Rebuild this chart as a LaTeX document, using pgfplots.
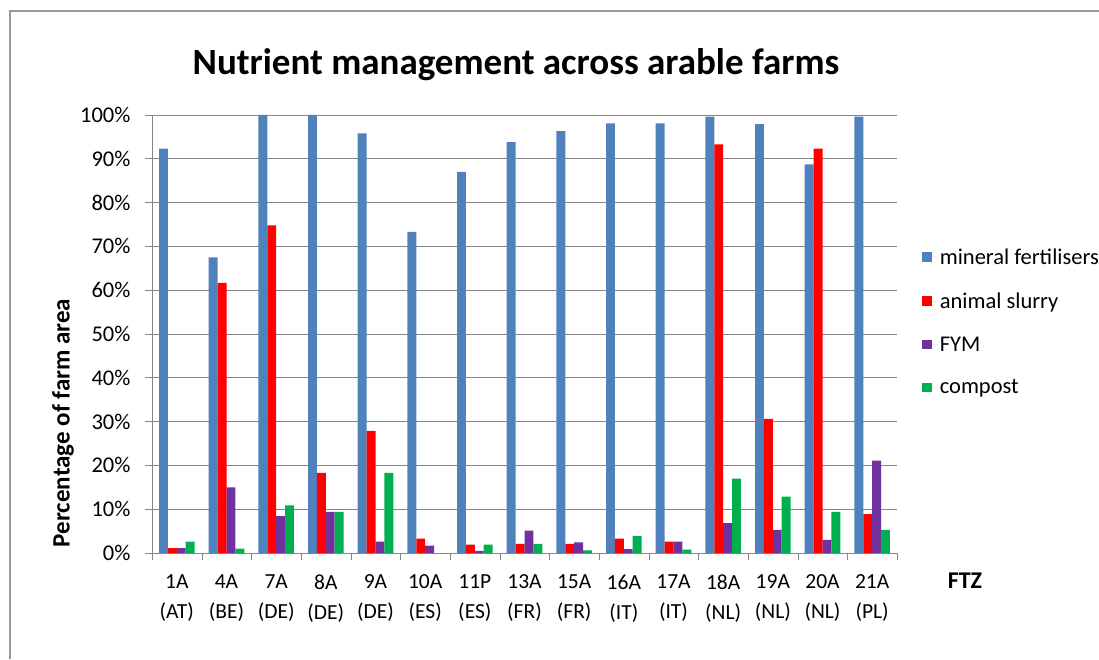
\documentclass[border=0pt]{standalone}
\usepackage{fontspec}
\setmainfont{Carlito}
\usepackage{pgfplots}
\pgfplotsset{compat=1.18}

\definecolor{cMin}{HTML}{4F81BD}
\definecolor{cSlu}{HTML}{FF0000}
\definecolor{cFym}{HTML}{7030A0}
\definecolor{cCom}{HTML}{00B050}
\definecolor{gridc}{HTML}{868686}

\begin{document}
\begin{tikzpicture}[x=1pt,y=1pt]
\path[use as bounding box] (0,0) rectangle (1099,659);
\draw[gray!80,line width=1.2pt] (10,0) -- (10,648) -- (1099,648);

\node[font=\bfseries\fontsize{37}{40}\selectfont, anchor=base] at (516,584) {Nutrient management across arable farms};
\node[font=\bfseries\fontsize{25}{28}\selectfont,rotate=90] at (63,236) {Percentage of farm area};
\node[font=\bfseries\fontsize{24}{28}\selectfont] at (965,78) {FTZ};

\begin{axis}[
    at={(152pt,106pt)}, anchor=south west,
    scale only axis, width=745pt, height=438pt,
    ybar=0pt, bar width=8.9pt,
    xmin=-0.5, xmax=14.5, ymin=0, ymax=100,
    axis x line*=bottom, axis y line*=left,
    axis line style={gridc, line width=0.8pt},
    xtick={0,...,14},
    xticklabels={{1A\\(AT)},{4A\\(BE)},{7A\\(DE)},{8A\\(DE)},{9A\\(DE)},{10A\\(ES)},{11P\\(ES)},{13A\\(FR)},{15A\\(FR)},{16A\\(IT)},{17A\\(IT)},{18A\\(NL)},{19A\\(NL)},{20A\\(NL)},{21A\\(PL)}},
    xticklabel style={align=center, font=\fontsize{21.5}{30}\selectfont, yshift=-11pt},
    minor xtick={-0.5,0.5,...,14.5},
    major x tick style={draw=none},
    minor tick length=7pt,
    minor x tick style={gridc},
    ytick={0,10,...,100},
    yticklabels={0\%,10\%,20\%,30\%,40\%,50\%,60\%,70\%,80\%,90\%,100\%},
    yticklabel style={font=\fontsize{22.5}{26}\selectfont, xshift=-11pt},
    y tick style={gridc, line width=0.8pt},
    major tick length=7pt,
    tick align=outside,
    ymajorgrids, grid style={gridc, line width=0.8pt},
    legend style={at={(1.029,0.705)}, anchor=north west, draw=none, fill=none,
        font=\fontsize{22.5}{26}\selectfont, row sep=23pt},
    legend cell align=left,
    legend image code/.code={\fill[#1] (0pt,-4.7pt) rectangle (10pt,4.7pt); \path (10pt,0pt) -- (16pt,0pt);},
]
\addplot[fill=cMin, draw=none] coordinates {(0,92.3) (1,67.5) (2,100) (3,100) (4,95.8) (5,73.3) (6,87) (7,93.8) (8,96.3) (9,98.1) (10,98.1) (11,99.6) (12,97.9) (13,88.7) (14,99.6)};
\addlegendentry{mineral fertilisers}
\addplot[fill=cSlu, draw=none] coordinates {(0,1.1) (1,61.7) (2,74.8) (3,18.3) (4,27.9) (5,3.3) (6,1.9) (7,2.1) (8,2.1) (9,3.3) (10,2.6) (11,93.3) (12,30.6) (13,92.3) (14,8.9)};
\addlegendentry{animal slurry}
\addplot[fill=cFym, draw=none] coordinates {(0,1.1) (1,15) (2,8.4) (3,9.4) (4,2.6) (5,1.7) (6,0.5) (7,5.1) (8,2.4) (9,0.9) (10,2.6) (11,6.8) (12,5.3) (13,3) (14,21.1)};
\addlegendentry{FYM}
\addplot[fill=cCom, draw=none] coordinates {(0,2.6) (1,1) (2,10.9) (3,9.4) (4,18.3) (5,0) (6,1.9) (7,2.1) (8,0.6) (9,3.9) (10,0.8) (11,17) (12,12.9) (13,9.4) (14,5.3)};
\addlegendentry{compost}
\end{axis}
\end{tikzpicture}
\end{document}
